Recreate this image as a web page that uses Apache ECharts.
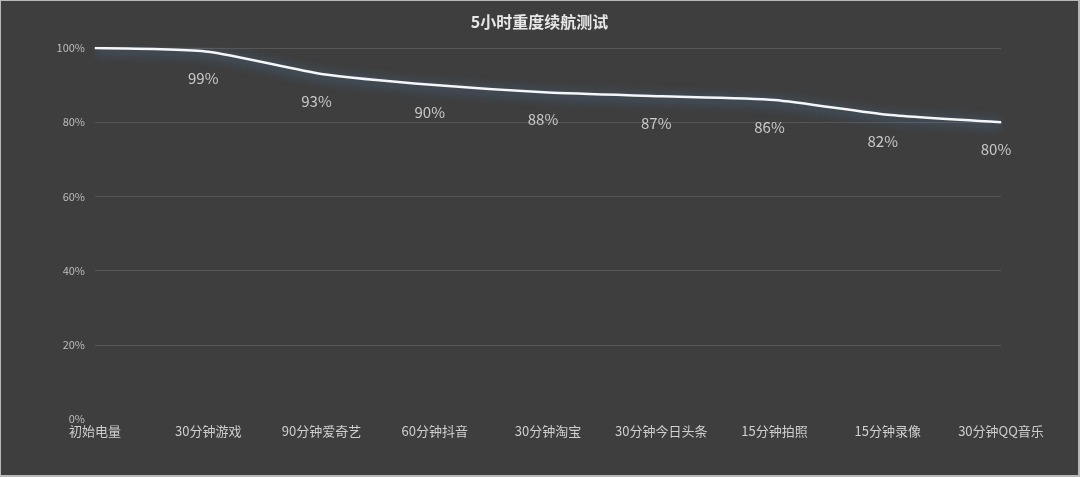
<!DOCTYPE html>
<html>
<head>
<meta charset="utf-8">
<script src="https://cdn.jsdelivr.net/npm/echarts@6/dist/echarts.min.js"></script>
<style>
  html, body { margin: 0; padding: 0; background: #b9b9b9; }
  #chart { position: absolute; left: 1px; top: 1px; width: 1077px; height: 474px; background: #3e3e3e; }
</style>
</head>
<body>
<div id="chart"></div>
<script>
"use strict";

// ── Datos ──────────────────────────────────────────────────────────────────
const CATEGORIES = [
  "初始电量", "30分钟游戏", "90分钟爱奇艺", "60分钟抖音", "30分钟淘宝",
  "30分钟今日头条", "15分钟拍照", "15分钟录像", "30分钟QQ音乐"
];
const BATTERY = [100, 99, 93, 90, 88, 87, 86, 82, 80];
const Y_TICKS = [0, 20, 40, 60, 80, 100];

const FONT = "'Noto Sans CJK SC','Noto Sans',sans-serif";

const chart = echarts.init(document.getElementById("chart"), null, { renderer: "canvas" });

chart.setOption({
  animation: false,
  backgroundColor: "#3e3e3e",
  title: {
    text: "5小时重度续航测试",
    left: "center", top: 8,
    textStyle: { fontFamily: FONT, fontSize: 16, fontWeight: "bold", color: "#e6e6e6" },
  },
  grid: { top: 47, left: 94, right: 77, bottom: 56 },
  xAxis: {
    type: "category",
    data: CATEGORIES,
    boundaryGap: false,
    axisLine: { show: false },
    axisTick: { show: false },
    axisLabel: { fontFamily: FONT, fontSize: 13, color: "#cfcfcf", margin: 6, interval: 0 },
  },
  yAxis: {
    type: "value",
    min: Y_TICKS[0], max: Y_TICKS[Y_TICKS.length - 1], interval: 20,
    axisLine: { show: false },
    axisTick: { show: false },
    splitLine: { showMinLine: false, lineStyle: { color: "#575757", width: 1 } },
    axisLabel: { fontFamily: FONT, fontSize: 11, color: "#bdbdbd", margin: 10, formatter: v => v + "%" },
  },
  series: [{
    type: "line",
    data: BATTERY.map((v, i) => i === 0 ? { value: v, label: { show: false } } : v),
    smooth: 0.2,
    symbol: "circle",
    symbolSize: 1,
    itemStyle: { color: "#ffffff" },
    lineStyle: {
      color: "#f4f6f8", width: 2.5,
      shadowColor: "rgba(80,140,200,0.9)", shadowBlur: 12, shadowOffsetY: 2,
    },
    label: {
      show: true, position: "bottom", distance: 19, offset: [-5, 0],
      fontFamily: FONT, fontSize: 15, color: "#cacaca",
      formatter: p => p.value + "%",
    },
  }],
});

window.addEventListener("resize", () => chart.resize());
</script>
</body>
</html>
